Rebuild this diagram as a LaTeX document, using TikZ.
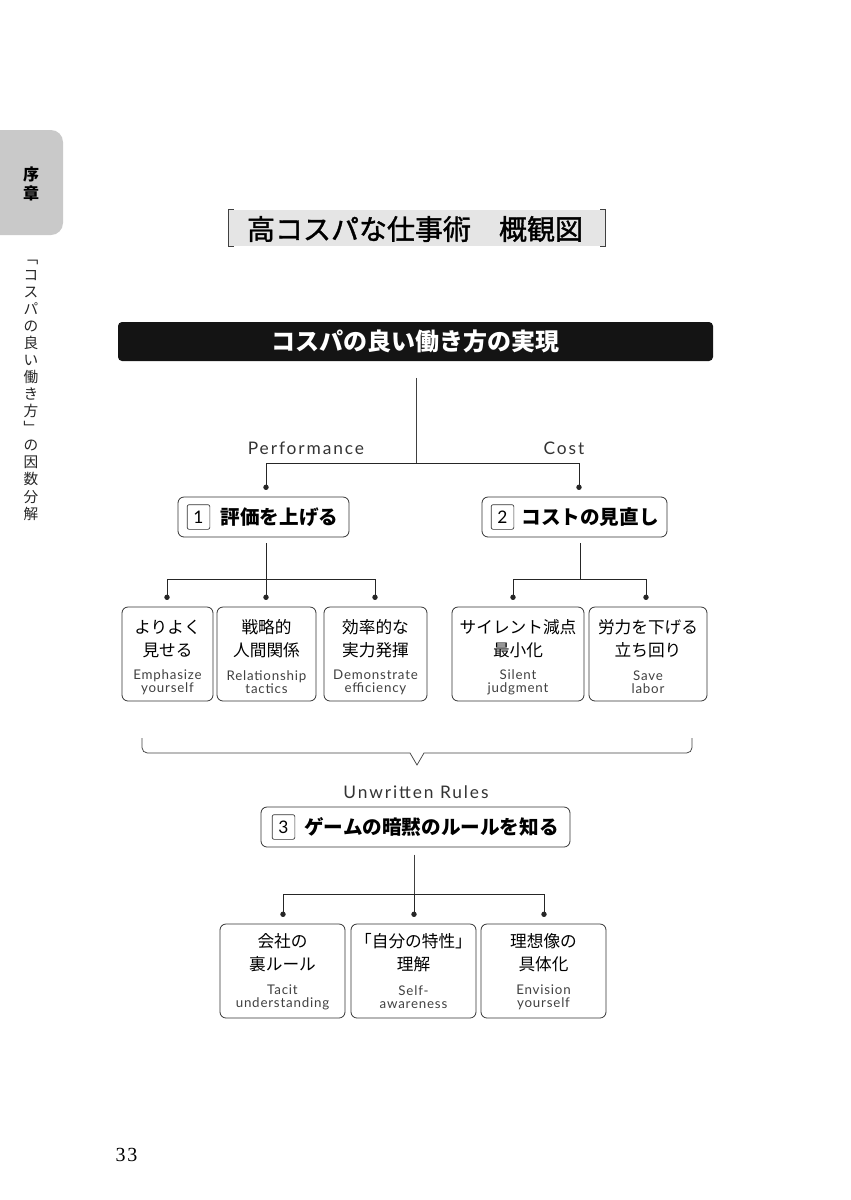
\documentclass[tikz,border=0pt]{standalone}
\usepackage{fontspec}
\usetikzlibrary{arrows.meta}
\setmainfont{Noto Sans CJK JP}
\newfontfamily\medfont[FakeBold=1.3]{Noto Sans CJK JP}
\newfontfamily\latinfont[LetterSpace=6]{Lato}
\newfontfamily\widefont[LetterSpace=11]{Lato}
\newfontfamily\pagefont[LetterSpace=8]{Liberation Serif}
\tikzset{
  box/.style={draw=black!80, line width=.6pt, rounded corners=4.5pt, inner sep=0pt, minimum height=70.5pt},
  head/.style={box, minimum height=30pt},
  numbox/.style={draw=black!80, line width=.5pt, rounded corners=1.5pt, inner sep=0pt, minimum width=17pt, minimum height=18.5pt, font=\latinfont\fontsize{13}{13}\selectfont},
  headtext/.style={inner sep=0pt, font=\bfseries\fontsize{14.7}{15}\selectfont},
  jptext/.style={inner sep=0pt, align=center, font=\fontsize{12.5}{17.25}\selectfont},
  entext/.style={inner sep=0pt, align=center, text=black!75, font=\latinfont\fontsize{10}{9.75}\selectfont},
  latin/.style={inner sep=0pt, text=black!80, font=\widefont\fontsize{13}{13}\selectfont},
  conn/.style={line width=.7pt, draw=black!85},
  thin conn/.style={line width=.55pt, draw=black!75},
  dotted conn/.style={conn, -{Circle[length=4pt]}, shorten >=5pt}
}
\begin{document}
\begin{tikzpicture}[x=.75pt, y=-.75pt]
  \useasboundingbox (0,0) rectangle (850,1200);

  % side tab
  \fill [black!21] (0,130) [rounded corners=9pt] -- (63,130) -- (63,235) [sharp corners] -- (0,235) -- cycle;
  \node [inner sep=0pt, align=center, font=\bfseries\fontsize{12}{14.25}\selectfont] (Tab) at (31,184) {序\\章};
  \node [inner sep=0pt, align=center, text=black!85, font=\fontsize{11}{12.8}\selectfont] (Side) at (31,390)
    {﹁\\コ\\ス\\パ\\の\\良\\い\\働\\き\\方\\﹂\\の\\因\\数\\分\\解};

  % title
  \node [fill=black!10, inner sep=0pt, minimum width=282pt, minimum height=27pt] (Title) at (417,228) {};
  \node [inner sep=0pt, font=\medfont\fontsize{21}{21}\selectfont] (TitleText) at (415,229) {高コスパな仕事術\hspace{1em}概観図};
  \draw [thin conn] (Title.north west) ++(5,0) -- (Title.north west) -- (Title.south west) -- ++(5,0);
  \draw [thin conn] (Title.north east) ++(-5,0) -- (Title.north east) -- (Title.south east) -- ++(-5,0);

  % top bar
  \node [fill=black!92, rounded corners=3pt, inner sep=0pt, minimum width=446.25pt, minimum height=29.25pt,
         text=white, font=\bfseries\fontsize{18}{18}\selectfont] (Bar) at (415.5,341.5) {コスパの良い働き方の実現};
  \coordinate (J0) at (416,463);
  \draw [thin conn, shorten <=12.5pt] (J0 |- Bar.south) -- (J0);

  \node [latin] (Perf) at (306,448) {Performance};
  \node [latin] (Cost) at (564,448) {Cost};

  % heads
  \node [head, minimum width=128.25pt] (H1) at (263.5,517) {};
  \node [numbox] (N1) at (198.5,517) {1};
  \node [headtext] (T1) at (279.5,517) {評価を上げる};
  \node [head, minimum width=138.75pt] (H2) at (574.5,517) {};
  \node [numbox] (N2) at (502.5,517) {2};
  \node [headtext] (T2) at (590,517) {コストの見直し};

  \coordinate (JL) at (266,463);
  \coordinate (JR) at (579,463);
  \draw [conn] (JL) -- (JR);
  \draw [dotted conn] (JL) -- (JL |- H1.north);
  \draw [dotted conn] (JR) -- (JR |- H2.north);

  % first row
  \node [box, minimum width=68.25pt] (A) at (167.5,654) {};
  \node [box, minimum width=74.25pt] (B) at (266.5,654) {};
  \node [box, minimum width=77.25pt] (C) at (375.5,654) {};
  \node [box, minimum width=99pt]    (D) at (518,654) {};
  \node [box, minimum width=88.5pt]  (E) at (648,654) {};

  \node [jptext] (A1) at (167.5,639) {よりよく\\見せる};
  \node [entext] (A2) at (167.5,682.5) {Emphasize\\yourself};
  \node [jptext] (B1) at (266.5,639) {戦略的\\人間関係};
  \node [entext] (B2) at (266.5,682.5) {Relationship\\tactics};
  \node [jptext] (C1) at (375.5,639) {効率的な\\実力発揮};
  \node [entext] (C2) at (375.5,682.5) {Demonstrate\\efficiency};
  \node [jptext] (D1) at (518,639) {サイレント減点\\最小化};
  \node [entext] (D2) at (518,682.5) {Silent\\judgment};
  \node [jptext] (E1) at (648,639) {労力を下げる\\立ち回り};
  \node [entext] (E2) at (648,682.5) {Save\\labor};

  \coordinate (K1) at (266,579);
  \coordinate (K1L) at (167,579);
  \coordinate (K1R) at (375,579);
  \draw [conn, shorten <=4.5pt] (K1 |- H1.south) -- (K1);
  \draw [conn] (K1L) -- (K1R);
  \draw [dotted conn] (K1L) -- (K1L |- A.north);
  \draw [dotted conn] (K1) -- (K1 |- B.north);
  \draw [dotted conn] (K1R) -- (K1R |- C.north);

  \coordinate (K2) at (580,579);
  \coordinate (K2L) at (513,579);
  \coordinate (K2R) at (646,579);
  \draw [conn, shorten <=4.5pt] (K2 |- H2.south) -- (K2);
  \draw [conn] (K2L) -- (K2R);
  \draw [dotted conn] (K2L) -- (K2L |- D.north);
  \draw [dotted conn] (K2R) -- (K2R |- E.north);

  % brace
  \draw [thin conn, rounded corners=4pt] (142,738) -- (142,753) [sharp corners] -- (410,753) -- (417,765) -- (424,753)
    [rounded corners=4pt] -- (692,753) -- (692,738);

  \node [latin] (Rules) at (416,792) {Unwritten Rules};

  % third head
  \node [head, minimum width=231.75pt] (H3) at (415.5,827) {};
  \node [numbox] (N3) at (283.5,827) {3};
  \node [headtext] (T3) at (431.5,827) {ゲームの暗黙のルールを知る};

  % second row
  \node [box, minimum width=93.75pt] (F) at (282.5,971) {};
  \node [box, minimum width=93.75pt] (G) at (413.5,971) {};
  \node [box, minimum width=93.75pt] (I) at (543.5,971) {};

  \node [jptext] (F1) at (282.5,953) {会社の\\裏ルール};
  \node [entext] (F2) at (282.5,997) {Tacit\\understanding};
  \node [jptext] (G1) at (413.5,953) {「自分の特性」\\理解};
  \node [entext] (G2) at (413.5,997) {Self-\\awareness};
  \node [jptext] (I1) at (543.5,953) {理想像の\\具体化};
  \node [entext] (I2) at (543.5,997) {Envision\\yourself};

  \coordinate (K3) at (414,894);
  \coordinate (K3L) at (283,894);
  \coordinate (K3R) at (544,894);
  \draw [thin conn, shorten <=5.5pt] (K3 |- H3.south) -- (K3);
  \draw [conn] (K3L) -- (K3R);
  \draw [dotted conn] (K3L) -- (K3L |- F.north);
  \draw [dotted conn] (K3) -- (K3 |- G.north);
  \draw [dotted conn] (K3R) -- (K3R |- I.north);

  % page number
  \node [inner sep=0pt, font=\pagefont\fontsize{15}{15}\selectfont] (Page) at (126.5,1155) {33};
\end{tikzpicture}
\end{document}
